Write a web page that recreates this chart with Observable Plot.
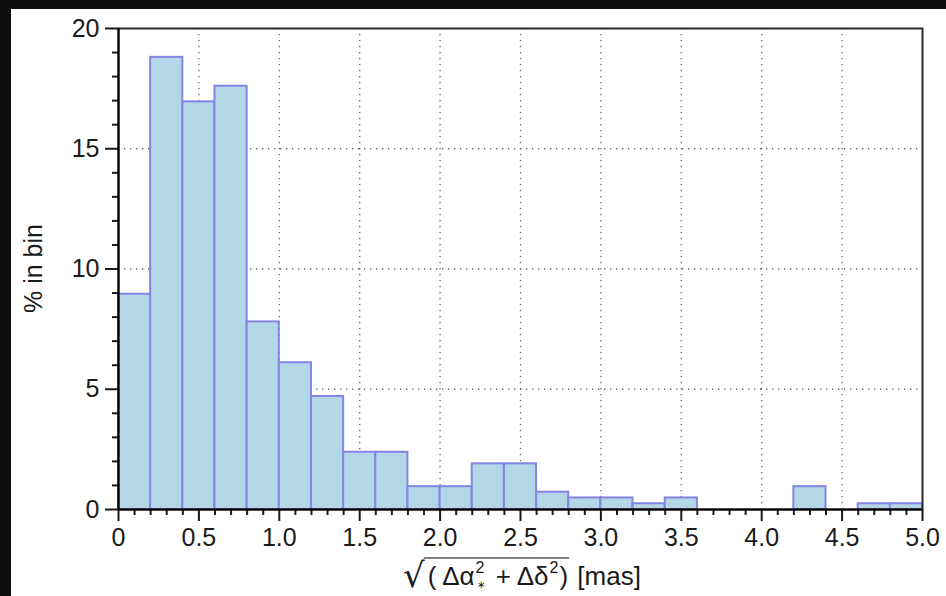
<!DOCTYPE html>
<html>
<head>
<meta charset="utf-8">
<script src="https://cdn.jsdelivr.net/npm/d3@7"></script>
<script src="https://cdn.jsdelivr.net/npm/@observablehq/plot@0.6"></script>
<style>
  html, body { margin: 0; padding: 0; background: #0d0d0d; width: 946px; height: 596px; overflow: hidden; }
  #chart { position: absolute; left: 11px; top: 9px; width: 935px; height: 587px; background: white; }
  #chart svg { display: block; overflow: visible; }
</style>
</head>
<body>
<div id="chart"></div>
<script>
// ---- data ----
const binStart = [0.0, 0.2, 0.4, 0.6, 0.8, 1.0, 1.2, 1.4, 1.6, 1.8, 2.0, 2.2, 2.4, 2.6, 2.8, 3.0, 3.2, 3.4, 3.6, 3.8, 4.0, 4.2, 4.4, 4.6, 4.8];
const binEnd   = [0.2, 0.4, 0.6, 0.8, 1.0, 1.2, 1.4, 1.6, 1.8, 2.0, 2.2, 2.4, 2.6, 2.8, 3.0, 3.2, 3.4, 3.6, 3.8, 4.0, 4.2, 4.4, 4.6, 4.8, 5.0];
const pctInBin = [8.95, 18.8, 16.95, 17.6, 7.8, 6.1, 4.7, 2.38, 2.38, 0.95, 0.95, 1.9, 1.9, 0.72, 0.48, 0.48, 0.24, 0.48, 0, 0, 0, 0.95, 0, 0.24, 0.24];

const xTicks = [0, 0.5, 1.0, 1.5, 2.0, 2.5, 3.0, 3.5, 4.0, 4.5, 5.0];
const xTickLabels = ["0", "0.5", "1.0", "1.5", "2.0", "2.5", "3.0", "3.5", "4.0", "4.5", "5.0"];
const xMinorTicks = [0.1,0.2,0.3,0.4,0.6,0.7,0.8,0.9,1.1,1.2,1.3,1.4,1.6,1.7,1.8,1.9,2.1,2.2,2.3,2.4,2.6,2.7,2.8,2.9,3.1,3.2,3.3,3.4,3.6,3.7,3.8,3.9,4.1,4.2,4.3,4.4,4.6,4.7,4.8,4.9];
const xGrid = [0.5, 1.0, 1.5, 2.0, 2.5, 3.0, 3.5, 4.0, 4.5];
const yTicks = [0, 5, 10, 15, 20];
const yTickLabels = ["0", "5", "10", "15", "20"];
const yMinorTicks = [1,2,3,4,6,7,8,9,11,12,13,14,16,17,18,19];
const yGrid = [5, 10, 15];
const yLabel = "% in bin";

const bins = binStart.map((s, i) => ({x1: s, x2: binEnd[i], pct: pctInBin[i]})).filter(d => d.pct > 0);

const FONT = "'Liberation Sans', Arial, Helvetica, sans-serif";

const plot = Plot.plot({
  width: 935,
  height: 587,
  marginLeft: 107,
  marginRight: 24,
  marginTop: 19,
  marginBottom: 87,
  style: { background: "white", fontFamily: FONT, fontSize: "25px", color: "#1a1a1a" },
  x: { domain: [0, 5] },
  y: { domain: [0, 20] },
  marks: [
    Plot.gridX(xGrid, { stroke: "#666", strokeOpacity: 1, strokeWidth: 1.3, strokeDasharray: "1.3,4.7" }),
    Plot.gridY(yGrid, { stroke: "#666", strokeOpacity: 1, strokeWidth: 1.3, strokeDasharray: "1.3,4.7" }),
    Plot.rectY(bins, { x1: "x1", x2: "x2", y: "pct", fill: "#b4d7e8", stroke: "#8484e2", strokeWidth: 2, inset: 0 }),
    Plot.axisX(xMinorTicks, { tickSize: 6, text: null, strokeWidth: 2, label: null }),
    Plot.axisX(xTicks, { tickSize: 12, tickPadding: 7, strokeWidth: 2, label: null,
      tickFormat: d => xTickLabels[xTicks.indexOf(d)] }),
    Plot.axisY(yMinorTicks, { tickSize: 6, text: null, strokeWidth: 2, label: null }),
    Plot.axisY(yTicks, { tickSize: 13, tickPadding: 6, strokeWidth: 2, label: null,
      tickFormat: d => yTickLabels[yTicks.indexOf(d)] }),
    Plot.frame({ stroke: "#2a2a2a", strokeWidth: 2 }),
    Plot.ruleX([0], { stroke: "black", strokeWidth: 2 }),
    Plot.ruleY([0], { stroke: "black", strokeWidth: 2 })
  ]
});

document.getElementById("chart").appendChild(plot);

// ---- axis titles as real text ----
const svg = d3.select(plot);
const xs = plot.scale("x"), ys = plot.scale("y");

svg.append("text")
  .attr("transform", `translate(31,${ys.apply(10)}) rotate(-90)`)
  .attr("text-anchor", "middle")
  .attr("font-family", FONT)
  .attr("font-size", 25)
  .attr("fill", "#1a1a1a")
  .text(yLabel);

const baseY = 576;
const t = svg.append("text")
  .attr("x", xs.apply(2.5) + 2)
  .attr("y", baseY)
  .attr("text-anchor", "middle")
  .attr("font-family", FONT)
  .attr("font-size", 26)
  .attr("fill", "#1a1a1a");
t.append("tspan").attr("font-size", 34).attr("font-family", "'DejaVu Sans', sans-serif").attr("dy", 2).text("√");
t.append("tspan").attr("dy", -2).attr("dx", 3).text("( Δα");
t.append("tspan").attr("font-size", 16).attr("dx", 1).attr("dy", -12).text("2");
t.append("tspan").attr("font-size", 10).attr("dx", -8.0).attr("dy", 15).text("∗");
t.append("tspan").attr("dx", 4).attr("dy", -3).text(" + Δδ");
t.append("tspan").attr("font-size", 16).attr("dx", 1).attr("dy", -12).text("2");
t.append("tspan").attr("dy", 12).attr("dx", 1).text(")");
t.append("tspan").attr("dx", 2).text(" [mas]");

const node = t.node();
const e1 = node.getExtentOfChar(1);
const e13 = node.getExtentOfChar(13);
svg.append("line")
  .attr("x1", e1.x - 4)
  .attr("x2", e13.x + e13.width + 1)
  .attr("y1", baseY - 27)
  .attr("y2", baseY - 27)
  .attr("stroke", "#555")
  .attr("stroke-width", 1.6);
</script>
</body>
</html>
